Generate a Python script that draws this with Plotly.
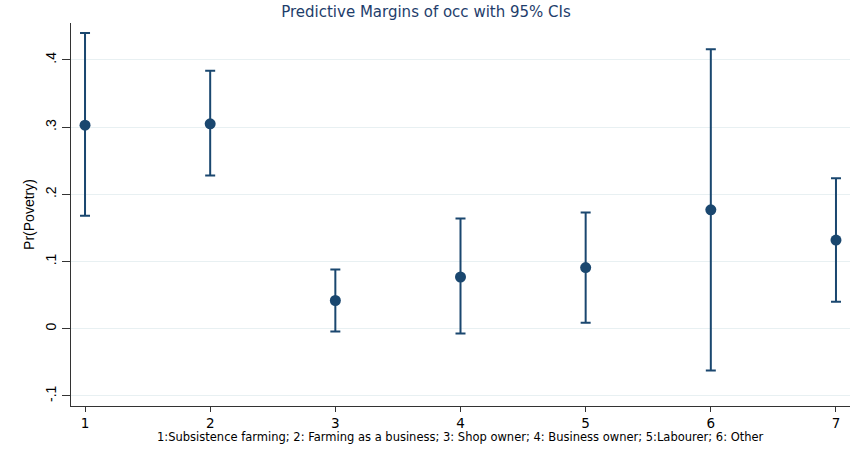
import plotly.graph_objects as go

categories = [1, 2, 3, 4, 5, 6, 7]
margins = [0.303, 0.305, 0.042, 0.077, 0.091, 0.177, 0.132]
ci_upper = [0.440, 0.384, 0.088, 0.164, 0.173, 0.416, 0.224]
ci_lower = [0.168, 0.228, -0.004, -0.007, 0.009, -0.062, 0.040]
y_tick_vals = [-0.1, 0, 0.1, 0.2, 0.3, 0.4]
y_tick_text = ["-.1", "0", ".1", ".2", ".3", ".4"]

navy = "#1a476f"

fig = go.Figure()
fig.add_trace(go.Scatter(
    x=categories, y=margins, mode="markers",
    marker=dict(color=navy, size=11),
    error_y=dict(type="data", symmetric=False,
                 array=[u - m for u, m in zip(ci_upper, margins)],
                 arrayminus=[m - l for m, l in zip(margins, ci_lower)],
                 color=navy, thickness=2, width=5),
    showlegend=False,
))

arial = "Liberation Sans, Arial, sans-serif"
wide = "DejaVu Sans, Verdana, sans-serif"
fig.update_layout(
    width=852, height=449,
    margin=dict(l=71, r=2, t=23, b=43),
    paper_bgcolor="white", plot_bgcolor="white",
    font=dict(family=arial, color="black", size=13),
    title=dict(text="Predictive Margins of occ with 95% CIs", x=0.5, xanchor="center",
               y=0.973, yanchor="middle",
               font=dict(family=wide, size=15, color="#1e3d6b")),
    xaxis=dict(range=[0.888, 7.112], tickvals=categories, ticktext=[str(c) for c in categories],
               showgrid=False, zeroline=False, showline=True, linecolor="#333333", linewidth=1,
               ticks="outside", ticklen=5, tickcolor="#333333",
               tickfont=dict(family=wide, size=13.5)),
    yaxis=dict(range=[-0.115, 0.455], tickvals=y_tick_vals, ticktext=y_tick_text, tickangle=-90,
               showgrid=True, gridcolor="#e8f0f2", gridwidth=1.2, zeroline=False,
               showline=True, linecolor="#333333", linewidth=1,
               ticks="outside", ticklen=8, tickcolor="#333333", tickfont=dict(size=14),
               title=dict(text="Pr(Povetry)", font=dict(size=14), standoff=5)),
    annotations=[dict(text="1:Subsistence farming; 2: Farming as a business; 3: Shop owner; 4: Business owner; 5:Labourer; 6: Other",
                      xref="paper", yref="paper", x=0.5, y=-0.082, xanchor="center", yanchor="middle",
                      showarrow=False, font=dict(family=wide, size=11.5, color="black"))],
)

fig.write_html("out.html", config={"displayModeBar": False},
               post_script="document.body.style.margin='0px';")
